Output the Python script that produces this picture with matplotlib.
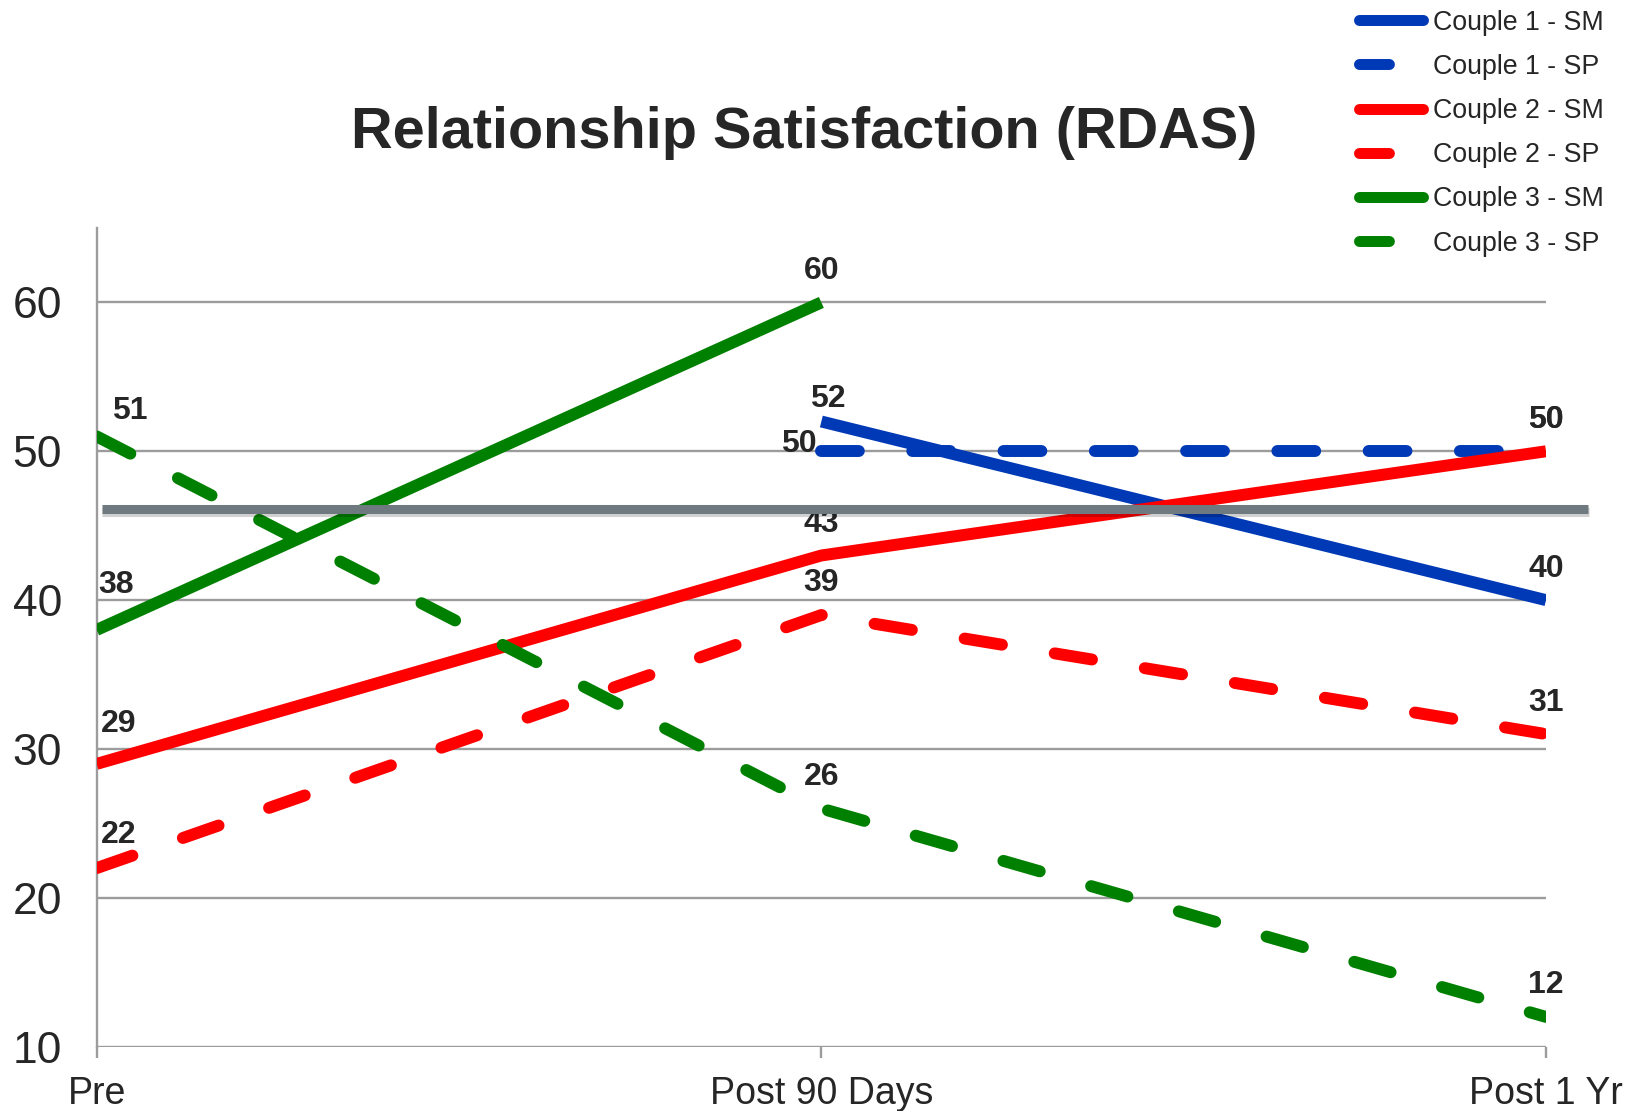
import matplotlib
matplotlib.use('Agg')
import matplotlib.pyplot as plt
import matplotlib.patheffects as pe
from matplotlib.lines import Line2D
import numpy as np

# ---------------- data ----------------
timepoints = ['Pre', 'Post 90 Days', 'Post 1 Yr']
series_names = ['Couple 1 - SM', 'Couple 1 - SP', 'Couple 2 - SM',
                'Couple 2 - SP', 'Couple 3 - SM', 'Couple 3 - SP']
couple1_sm = [None, 52, 40]
couple1_sp = [None, 50, 50]
couple2_sm = [29, 43, 50]
couple2_sp = [22, 39, 31]
couple3_sm = [38, 60, None]
couple3_sp = [51, 26, 12]
reference_level = 46.1
y_ticks = [10, 20, 30, 40, 50, 60]

# ---------------- style ----------------
series_values = [couple1_sm, couple1_sp, couple2_sm, couple2_sp, couple3_sm, couple3_sp]
colors = ['#0039b5', '#0039b5', '#ff0000', '#ff0000', '#008000', '#008000']
dashed = [False, True, False, True, False, True]
text_color = '#262626'
grid_color = '#9c9c9c'
LW = 8.6
LABEL_FS = 23
# label offsets in pixels (dx, dy of digit centre relative to point)
label_offsets = {
    (5, 0): (33, 29),
    (4, 0): (19, 48),
    (2, 0): (22, 43),
    (3, 0): (22, 37),
    (0, 1): (6, 26),
    (1, 1): (-23, 11),
}
default_offset = (0, 35)
half_cap = LABEL_FS * 100 / 72 * 0.716 / 2

plt.rcParams['font.family'] = ['Liberation Sans', 'DejaVu Sans']

W, H = 1625, 1111
fig = plt.figure(figsize=(W / 100, H / 100), dpi=100)
ax_l, ax_r = 96.7, 1546.0
ax_b, ax_t = 1046.7, 228.0
ax = fig.add_axes([ax_l / W, 1 - ax_b / H, (ax_r - ax_l) / W, (ax_b - ax_t) / H])

x = np.arange(len(timepoints))
for i, vals in enumerate(series_values):
    y = np.array([np.nan if v is None else v for v in vals], dtype=float)
    kw = dict(color=colors[i], lw=LW, solid_capstyle='butt', zorder=3 + i * 0.1)
    if dashed[i]:
        kw.update(linestyle=(0, (38 / 12, 53.7 / 12)), dash_capstyle='round')
    ax.plot(x, y, **kw)
    for j, v in enumerate(vals):
        if v is None:
            continue
        dx, dy = label_offsets.get((i, j), default_offset)
        ax.annotate(f'{v}', xy=(x[j], v), xytext=(dx, dy - half_cap),
                    textcoords='offset pixels', ha='center', va='baseline',
                    fontsize=LABEL_FS, fontweight='bold', color=text_color,
                    zorder=5, annotation_clip=False)

# reference line (drawn on top)
ax.plot([0.0069, 2.058], [reference_level, reference_level], color='#6f7a80',
        lw=6.5, solid_capstyle='butt', clip_on=False, zorder=10,
        path_effects=[pe.SimpleLineShadow(offset=(0.5, -2), shadow_color='k', alpha=0.18),
                      pe.Normal()])

ax.set_xlim(0, 2)
ax.set_ylim(10, 65)
ax.set_xticks(x)
ax.set_xticklabels(timepoints)
ax.set_yticks(y_ticks)
ax.grid(axis='y', color=grid_color, lw=1.7, zorder=1)
ax.set_axisbelow(True)
for s in ['top', 'right', 'bottom']:
    ax.spines[s].set_visible(False)
ax.spines['left'].set_color(grid_color)
ax.spines['left'].set_linewidth(1.7)
ax.tick_params(axis='y', length=0, pad=24.8, labelsize=32, labelcolor=text_color)
ax.tick_params(axis='x', length=7.9, width=1.7, color=grid_color, direction='out',
               pad=13, labelsize=27, labelcolor=text_color)

# title
fig.text(804 / W, 1 - 148 / H, 'Relationship Satisfaction (RDAS)', ha='center',
         va='baseline', fontsize=41.5, fontweight='bold', color=text_color)

# legend
handles = []
for i in range(len(series_names)):
    if dashed[i]:
        h = Line2D([], [], color=colors[i], lw=7.9, linestyle=(0, (30 / 11, 100)),
                   dash_capstyle='round')
    else:
        h = Line2D([], [], color=colors[i], lw=7.9, solid_capstyle='round')
    handles.append(h)
fig.legend(handles, series_names, loc='upper left',
           bbox_to_anchor=(1358.5 / W, 1 - 9.5 / H), frameon=False,
           fontsize=19.3, labelcolor=text_color, borderpad=0, borderaxespad=0,
           handlelength=2.42, handletextpad=0.35, labelspacing=0.68)

fig.savefig('out.png', dpi=100)
